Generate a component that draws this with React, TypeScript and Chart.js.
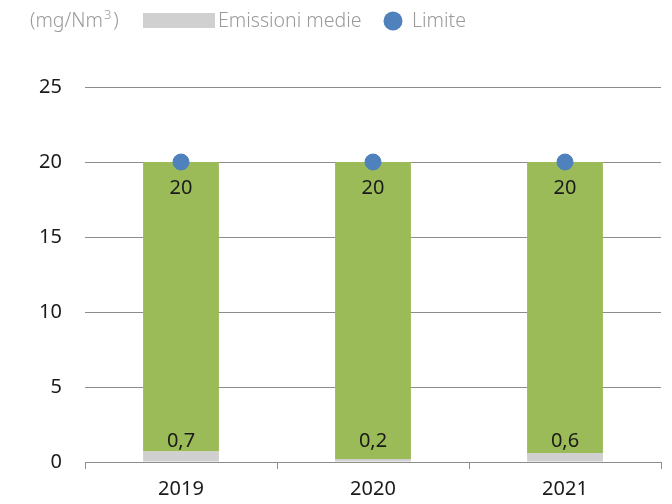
import React, { useEffect, useRef } from "react";
import { Chart, registerables } from "chart.js";

Chart.register(...registerables);

const categories = ["2019", "2020", "2021"];
const emissioni = [0.7, 0.2, 0.6];
const limite = [20, 20, 20];
const emissioniLabels = ["0,7", "0,2", "0,6"];
const limiteLabels = ["20", "20", "20"];
const yTicks = [0, 5, 10, 15, 20, 25];
const unitLabel = "(mg/Nm³)";
const legendEmissioni = "Emissioni medie";
const legendLimite = "Limite";

const GREEN = "#9BBB59";
const GREY = "#D0D0D0";
const BLUE = "#4F81BD";
const FONT = "'Noto Sans', 'DejaVu Sans', sans-serif";

export default function App() {
  const ref = useRef<HTMLCanvasElement | null>(null);

  useEffect(() => {
    if (!ref.current) return;
    const remainder = limite.map((l, i) => l - emissioni[i]);

    const labelPlugin = {
      id: "labelsAndLegend",
      afterDatasetsDraw(chart: any) {
        const ctx = chart.ctx;
        const y = chart.scales.y;
        ctx.save();
        ctx.fillStyle = "#1a1a1a";
        ctx.font = `20px ${FONT}`;
        ctx.textAlign = "center";
        ctx.textBaseline = "middle";
        const limMeta = chart.getDatasetMeta(2);
        limMeta.data.forEach((pt: any, i: number) => {
          ctx.fillText(limiteLabels[i], pt.x, pt.y + 26);
        });
        const emMeta = chart.getDatasetMeta(0);
        emMeta.data.forEach((bar: any, i: number) => {
          ctx.fillText(emissioniLabels[i], bar.x, y.getPixelForValue(0) - 21);
        });
        // legend
        ctx.textAlign = "left";
        ctx.font = `300 19.5px ${FONT}`;
        ctx.fillStyle = "#9a9a9a";
        ctx.fillText("(mg/Nm", 30, 21);
        const w1 = ctx.measureText("(mg/Nm").width;
        ctx.font = `300 13px ${FONT}`;
        ctx.fillText("3", 30 + w1 + 1, 15);
        const w2 = ctx.measureText("3").width;
        ctx.font = `300 19.5px ${FONT}`;
        ctx.fillText(")", 30 + w1 + w2 + 3, 21);
        ctx.fillStyle = GREY;
        ctx.fillRect(143, 13, 72, 15);
        ctx.fillStyle = "#9a9a9a";
        ctx.fillText(legendEmissioni, 218, 21);
        ctx.beginPath();
        ctx.arc(393, 21, 9.5, 0, Math.PI * 2);
        ctx.fillStyle = BLUE;
        ctx.fill();
        ctx.fillStyle = "#9a9a9a";
        ctx.fillText(legendLimite, 412, 21);
        ctx.restore();
      },
    };

    const chart = new Chart(ref.current, {
      type: "bar",
      data: {
        labels: categories,
        datasets: [
          {
            label: legendEmissioni,
            data: emissioni,
            backgroundColor: GREY,
            stack: "s",
            barPercentage: 0.79,
            categoryPercentage: 0.5,
            order: 2,
          },
          {
            label: "resto",
            data: remainder,
            backgroundColor: GREEN,
            stack: "s",
            barPercentage: 0.79,
            categoryPercentage: 0.5,
            order: 2,
          },
          {
            type: "line" as any,
            label: legendLimite,
            data: limite,
            stack: "lim",
            showLine: false,
            pointRadius: 8,
            pointHoverRadius: 8,
            pointBackgroundColor: BLUE,
            pointBorderColor: BLUE,
            borderColor: BLUE,
            backgroundColor: BLUE,
            order: 1,
          } as any,
        ],
      },
      options: {
        animation: false,
        responsive: false,
        maintainAspectRatio: false,
        events: [],
        layout: { padding: { top: 87, right: 11, left: 0, bottom: 0 } },
        plugins: {
          legend: { display: false },
          tooltip: { enabled: false },
        },
        scales: {
          x: {
            stacked: true,
            offset: true,
            grid: {
              offset: true,
              drawOnChartArea: false,
              drawTicks: true,
              tickLength: 7,
              color: "#8c8c8c",
            },
            border: { color: "#8c8c8c", width: 1 },
            ticks: { color: "#1a1a1a", font: { family: FONT, size: 20 }, padding: 8 },
            afterFit(s: any) {
              s.height = 42;
            },
          },
          y: {
            stacked: true,
            min: 0,
            max: 25,
            afterBuildTicks(s: any) {
              s.ticks = yTicks.map((v) => ({ value: v }));
            },
            grid: { color: "#8c8c8c", drawTicks: false, lineWidth: 1 },
            border: { display: false },
            ticks: { color: "#1a1a1a", font: { family: FONT, size: 20 }, padding: 23 },
            afterFit(s: any) {
              s.width = 85;
            },
          },
        },
      },
      plugins: [labelPlugin],
    });
    return () => chart.destroy();
  }, []);

  return (
    <div style={{ position: "fixed", left: 0, top: 0, width: 672, height: 504, background: "#fff" }}>
      <canvas ref={ref} width={672} height={504} style={{ width: 672, height: 504 }} />
    </div>
  );
}
